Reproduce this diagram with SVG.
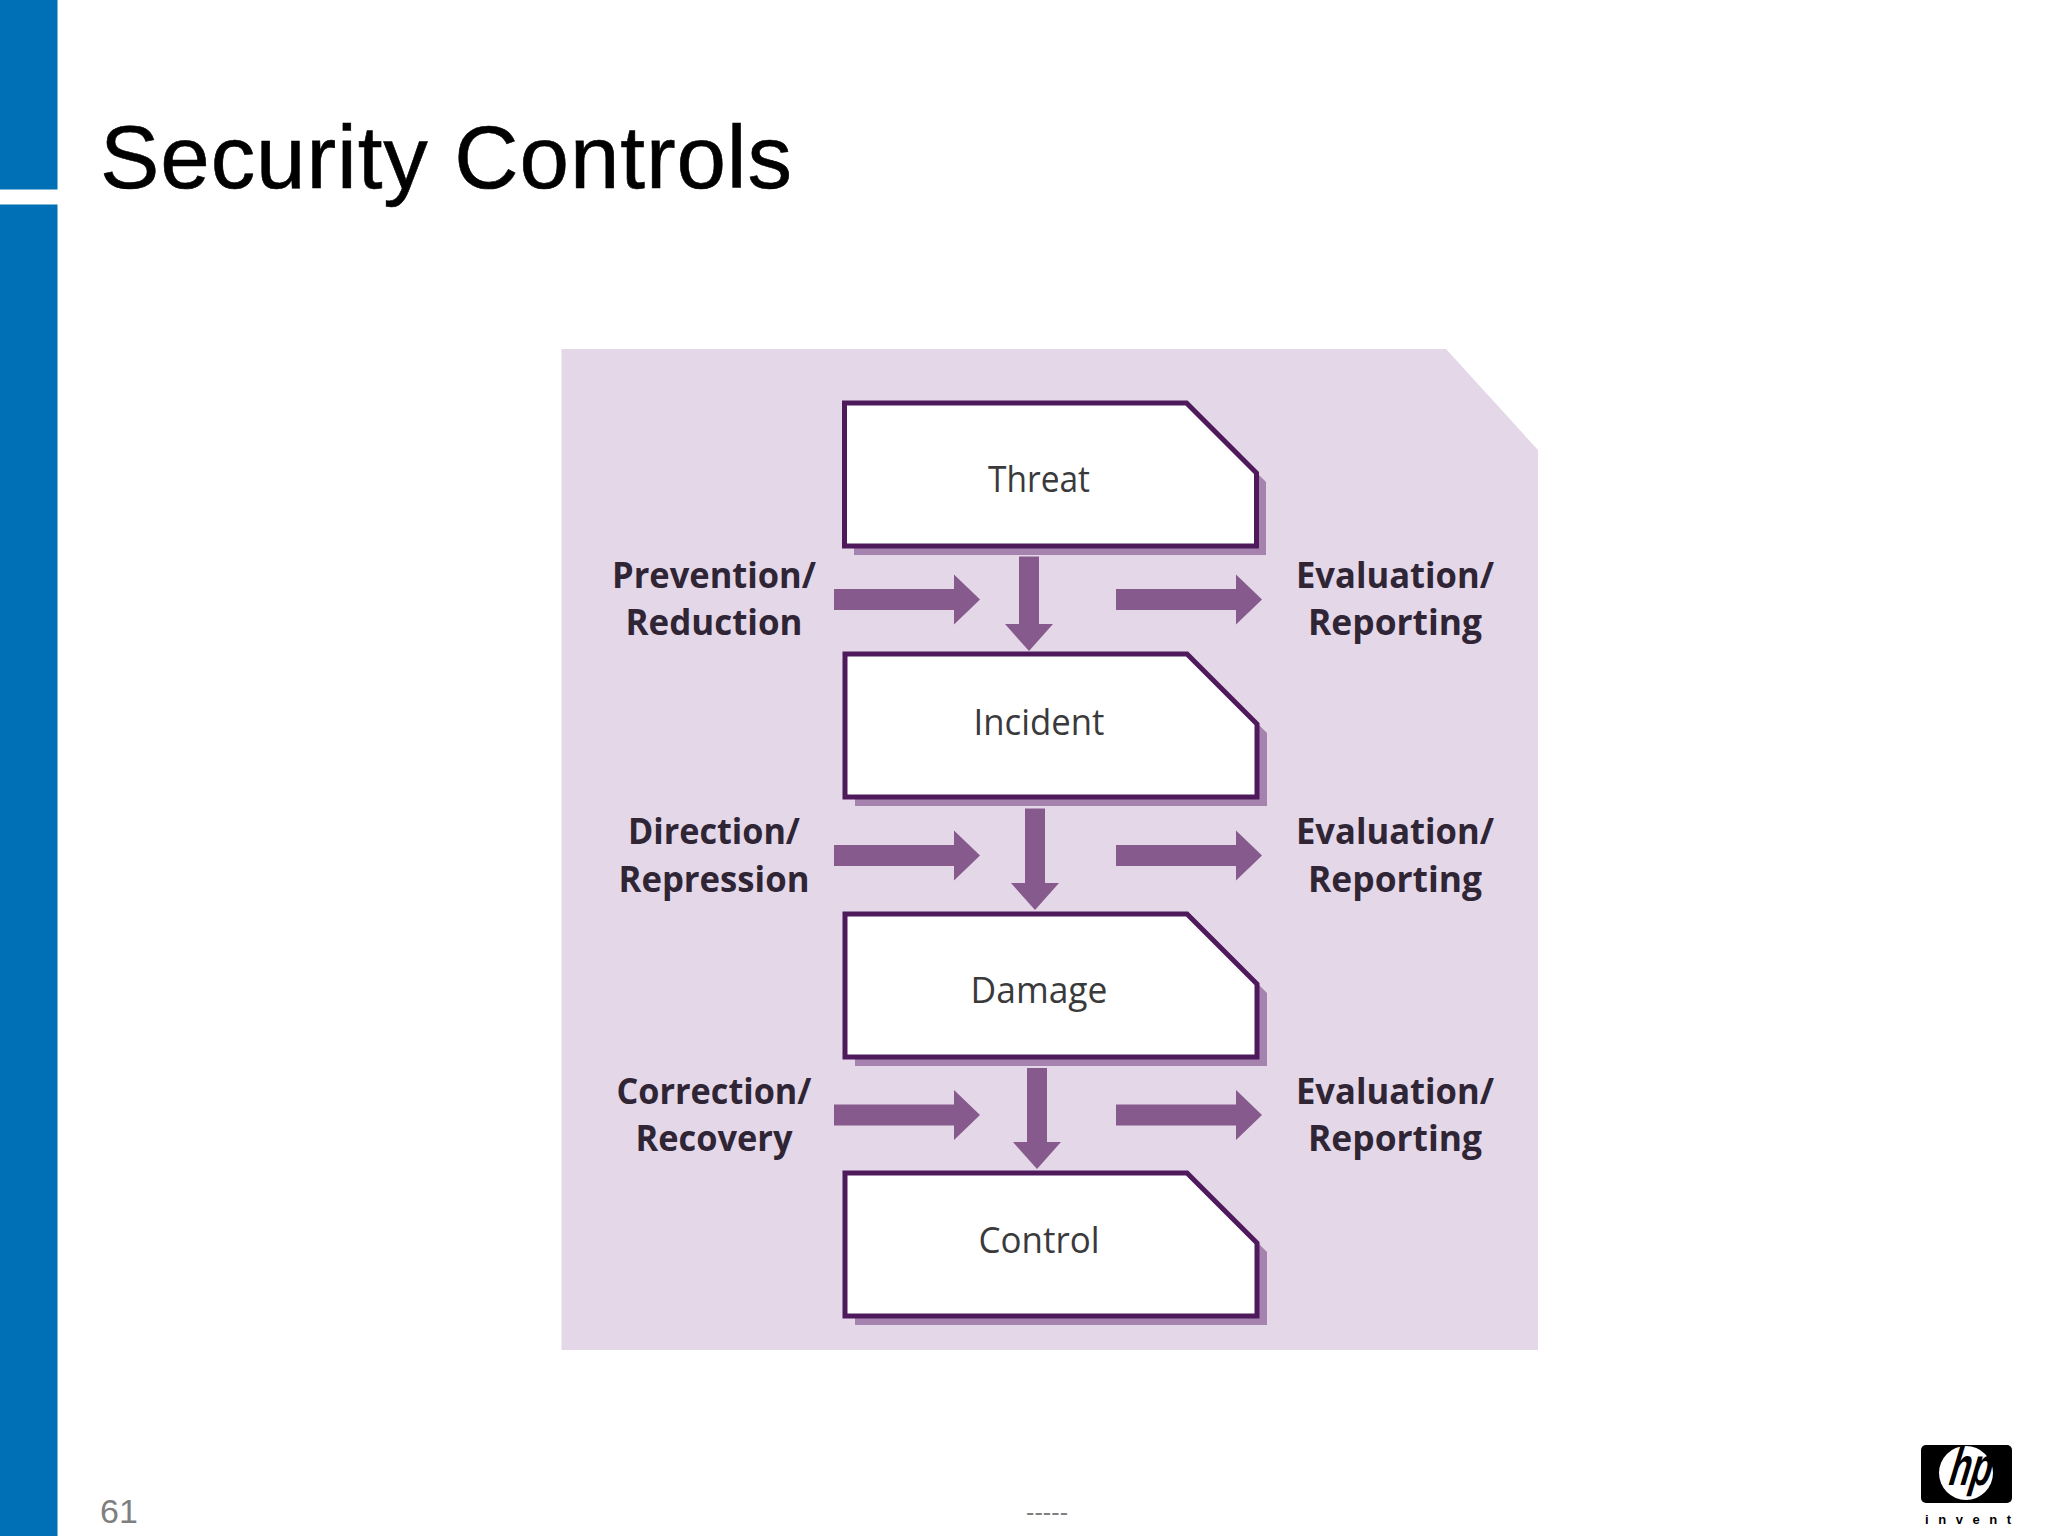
<svg xmlns="http://www.w3.org/2000/svg" width="2048" height="1536" viewBox="0 0 2048 1536">
<style>
.lab{font-family:"Open Sans","Liberation Sans",sans-serif;font-weight:700;font-size:35px;fill:#2f2535;text-anchor:middle}
.nm{font-family:"Open Sans","Liberation Sans",sans-serif;font-size:37px;fill:#3a3a3c;text-anchor:middle}
.box{fill:#fff;stroke:#4f1a5c;stroke-width:5}
.sh{fill:#a583ae}
.ar{fill:#875a8d}
</style>
<defs>
<path id="bs" d="M0 0H342L412 70V143H0Z"/>
<path id="h" d="M0 -10.500H120V-25L146 0L120 25V10.500H0Z"/>
</defs>
<rect width="2048" height="1536" fill="#fff"/>
<rect x="0" y="0" width="57.500" height="189.500" fill="#0070b6"/>
<rect x="0" y="204.500" width="57.500" height="1332" fill="#0070b6"/>
<text x="100" y="187.500" font-family="Liberation Sans,Arial,sans-serif" font-size="89" fill="#000" stroke="#000" stroke-width="0.6" textLength="692">Security Controls</text>
<path d="M561.500 349H1446L1538 450V1350H561.500Z" fill="#e3d7e8"/>
<g id="connectors">
<use href="#h" class="ar" x="834" y="599.500"/><use href="#h" class="ar" x="1116" y="599.500"/>
<use href="#h" class="ar" x="834" y="855.500"/><use href="#h" class="ar" x="1116" y="855.500"/>
<use href="#h" class="ar" x="834" y="1115"/><use href="#h" class="ar" x="1116" y="1115"/>
<path class="ar" d="M1019 556.500H1039V624H1053L1029 651L1005 624H1019Z"/>
<path class="ar" d="M1025 808.500H1045V883H1059L1035 910L1011 883H1025Z"/>
<path class="ar" d="M1027 1068H1047V1142H1061L1037 1169L1013 1142H1027Z"/>
</g>
<g id="threat"><use href="#bs" class="sh" x="854" y="412"/><use href="#bs" class="box" x="844.500" y="403"/><text class="nm" x="1039" y="492" textLength="102" lengthAdjust="spacingAndGlyphs">Threat</text></g>
<g id="incident"><use href="#bs" class="sh" x="855" y="663"/><use href="#bs" class="box" x="845" y="654"/><text class="nm" x="1039" y="735" textLength="131" lengthAdjust="spacingAndGlyphs">Incident</text></g>
<g id="damage"><use href="#bs" class="sh" x="855" y="923"/><use href="#bs" class="box" x="845" y="914"/><text class="nm" x="1039" y="1003" textLength="137" lengthAdjust="spacingAndGlyphs">Damage</text></g>
<g id="control"><use href="#bs" class="sh" x="855" y="1182"/><use href="#bs" class="box" x="845" y="1173"/><text class="nm" x="1039" y="1253" textLength="121" lengthAdjust="spacingAndGlyphs">Control</text></g>
<g id="labels-left">
<text class="lab" x="714" y="588" textLength="204" lengthAdjust="spacingAndGlyphs">Prevention/</text>
<text class="lab" x="714" y="635" textLength="177" lengthAdjust="spacingAndGlyphs">Reduction</text>
<text class="lab" x="714" y="844" textLength="172" lengthAdjust="spacingAndGlyphs">Direction/</text>
<text class="lab" x="714" y="892" textLength="191" lengthAdjust="spacingAndGlyphs">Repression</text>
<text class="lab" x="714" y="1104" textLength="195" lengthAdjust="spacingAndGlyphs">Correction/</text>
<text class="lab" x="714" y="1151" textLength="157" lengthAdjust="spacingAndGlyphs">Recovery</text>
</g>
<g id="labels-right">
<text class="lab" x="1395" y="588" textLength="198" lengthAdjust="spacingAndGlyphs">Evaluation/</text>
<text class="lab" x="1395" y="635" textLength="174" lengthAdjust="spacingAndGlyphs">Reporting</text>
<text class="lab" x="1395" y="844" textLength="198" lengthAdjust="spacingAndGlyphs">Evaluation/</text>
<text class="lab" x="1395" y="892" textLength="174" lengthAdjust="spacingAndGlyphs">Reporting</text>
<text class="lab" x="1395" y="1104" textLength="198" lengthAdjust="spacingAndGlyphs">Evaluation/</text>
<text class="lab" x="1395" y="1151" textLength="174" lengthAdjust="spacingAndGlyphs">Reporting</text>
</g>
<text x="100" y="1523" font-family="Liberation Sans,Arial,sans-serif" font-size="34" fill="#7f7f7f">61</text>
<text x="1047" y="1521" font-family="Liberation Sans,Arial,sans-serif" font-size="25" fill="#7f7f7f" text-anchor="middle" textLength="42">-----</text>
<g id="logo">
<rect x="1921" y="1445" width="91" height="58" rx="5" fill="#000"/>
<circle cx="1966" cy="1473" r="27" fill="#fff"/>
<text transform="translate(1948 1485) skewX(-10)" font-family="Liberation Sans,Arial,sans-serif" font-weight="700" font-style="italic" font-size="54" fill="#000" textLength="42" lengthAdjust="spacingAndGlyphs">hp</text>
<text x="1925" y="1524" font-family="Liberation Sans,Arial,sans-serif" font-weight="700" font-size="13" fill="#000" textLength="86">invent</text>
</g>
</svg>
